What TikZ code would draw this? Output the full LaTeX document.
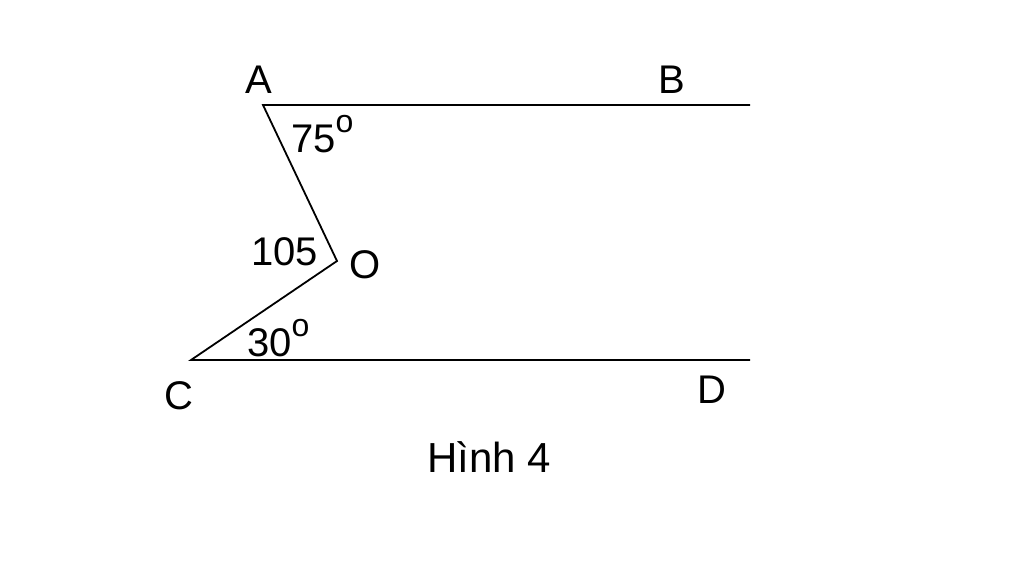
\documentclass[tikz,border=0pt]{standalone}
\usepackage{fontspec}
\setmainfont{Liberation Sans}
\newcommand{\degsup}{\raisebox{0.5em}{\fontsize{32}{32}\selectfont o}}
\begin{document}
\begin{tikzpicture}[x=1pt,y=-1pt,
  lbl/.style={font=\fontsize{40}{40}\selectfont, inner sep=0pt},
  seg/.style={line width=1.8pt}]
\useasboundingbox (0,0) rectangle (1024,587);
\coordinate (A) at (263,105);
\coordinate (B) at (750,105);
\coordinate (O) at (337,261);
\coordinate (C) at (191,360);
\coordinate (D) at (750,360);
\draw[seg] (B) -- (A) -- (O) -- (C) -- (D);
\node[lbl] (lA) at (259,80) {A};
\node[lbl] (lB) at (672,80) {B};
\node[lbl] (lO) at (365,265) {O};
\node[lbl] (lC) at (179,396) {C};
\node[lbl] (lD) at (712,390) {D};
\node[lbl, anchor=base west] (a75) at (291,152) {75\degsup};
\node[lbl, anchor=base west] (a105) at (251,265) {105};
\node[lbl, anchor=base west] (a30) at (247,356) {30\degsup};
\node[lbl, font=\fontsize{42}{42}\selectfont] (cap) at (489,457) {Hình 4};
\end{tikzpicture}
\end{document}
